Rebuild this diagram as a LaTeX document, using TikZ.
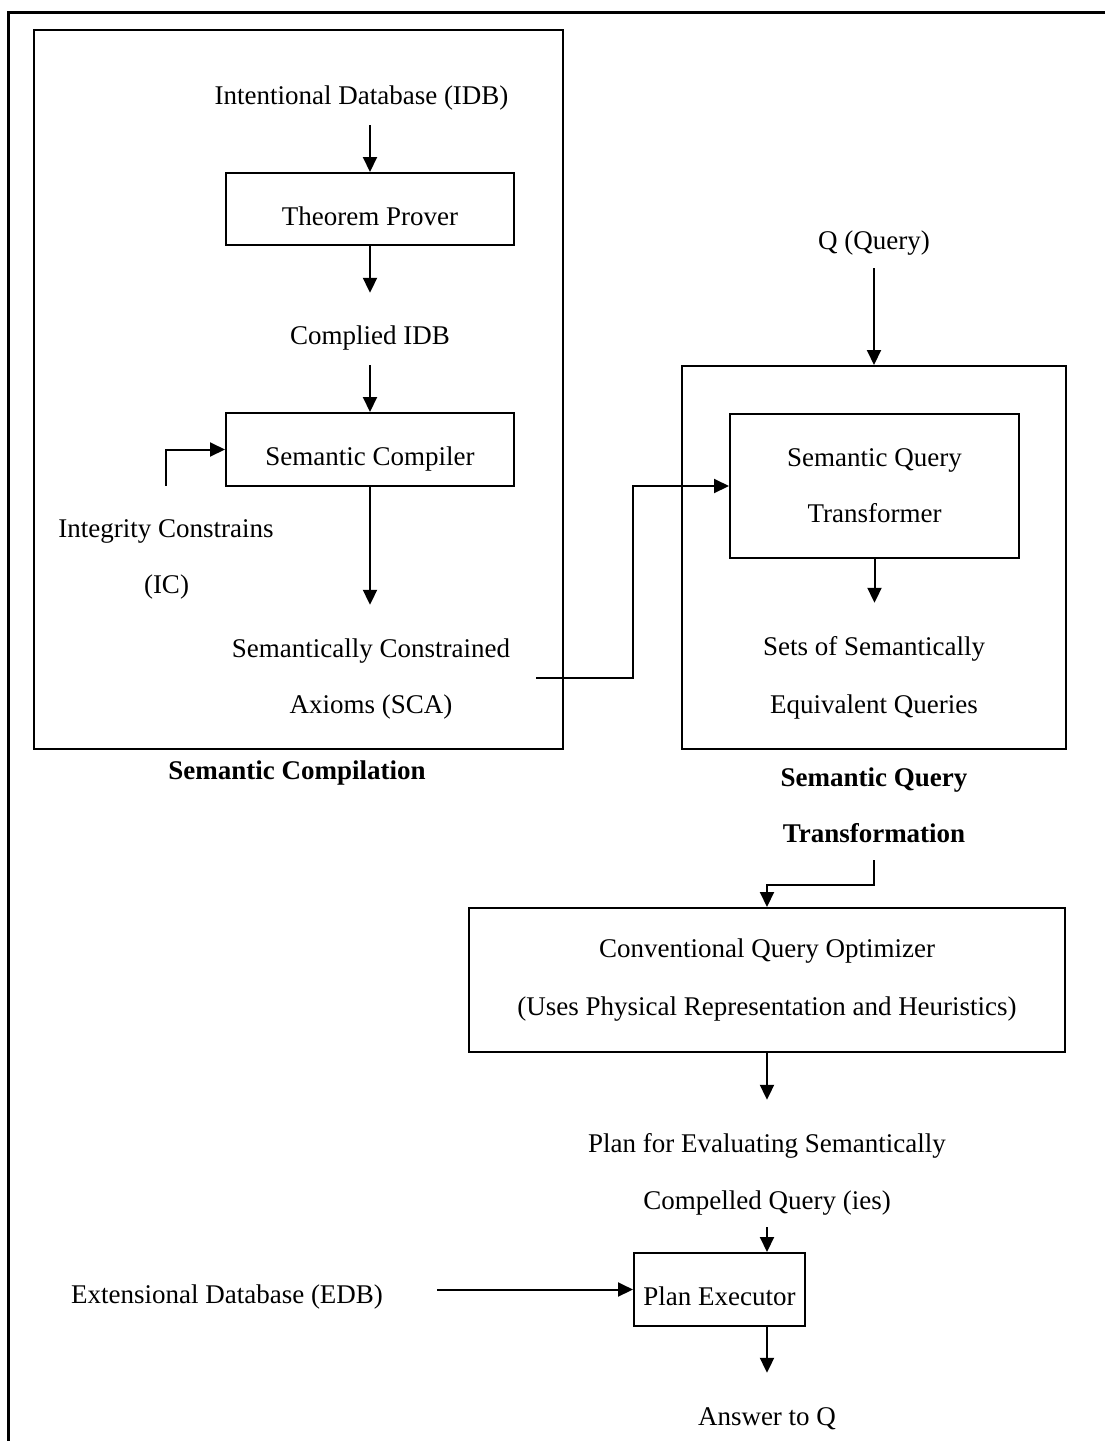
\documentclass[tikz,border=0pt]{standalone}
\usepackage{fontspec}
\setmainfont{Liberation Serif}
\usetikzlibrary{arrows.meta,calc}
\begin{document}
\begin{tikzpicture}[x=1pt,y=-1pt,
  txt/.style={font=\fontsize{27}{32}\selectfont, inner sep=0pt,
    text height=19pt, text depth=6pt, anchor=base},
  ttl/.style={txt, font=\fontsize{27}{32}\selectfont\bfseries},
  sbox/.style={draw, line width=2pt, font=\fontsize{27}{32}\selectfont,
    inner sep=0pt, text height=32pt, text depth=0pt},
  mbox/.style={draw, line width=2pt, align=center, inner sep=0pt},
  frame/.style={draw, line width=2pt, inner sep=0pt},
  arr/.style={line width=2pt, -{Triangle[length=15pt,width=14pt]}}]

\useasboundingbox (0,0) rectangle (1105,1441);

% page frame (open to the right and bottom)
\draw[line width=3pt] (8,1441) -- (8,12) -- (1105,12);

% stage frames
\node[frame, minimum width=529pt, minimum height=719pt] (lframe) at (298.5,389.5) {};
\node[frame, minimum width=384pt, minimum height=383pt] (rframe) at (874,557.5) {};

% semantic compilation
\node[txt] (idb) at (361.5,104) {Intentional Database (IDB)};
\node[sbox, minimum width=288pt, minimum height=72pt] (tp) at (370,209) {Theorem Prover};
\node[txt] (cidb) at (370,344) {Complied IDB};
\node[sbox, minimum width=288pt, minimum height=73pt] (sc) at (370,449.5) {Semantic Compiler};
\node[txt] (ic1) at (166,537) {Integrity Constrains};
\node[txt] (ic2) at (166.5,593) {(IC)};
\node[txt] (sca1) at (371,657) {Semantically Constrained};
\node[txt] (sca2) at (371,713) {Axioms (SCA)};
\node[ttl] (lttl) at (297,779) {Semantic Compilation};

% semantic query transformation
\node[txt] (q) at (874,249) {Q (Query)};
\node[mbox, font=\fontsize{27}{56}\selectfont, minimum width=289pt, minimum height=144pt]
  (sqt) at (874.5,486) {Semantic Query\\Transformer};
\node[txt] (sets1) at (874,655) {Sets of Semantically};
\node[txt] (sets2) at (874,713) {Equivalent Queries};
\node[ttl] (rttl1) at (874,786) {Semantic Query};
\node[ttl] (rttl2) at (874,842) {Transformation};

% optimisation and execution
\node[mbox, font=\fontsize{27}{58}\selectfont, minimum width=596pt, minimum height=144pt]
  (cqo) at (767,980) {Conventional Query Optimizer\\(Uses Physical Representation and Heuristics)};
\node[txt] (plan1) at (767,1152) {Plan for Evaluating Semantically};
\node[txt] (plan2) at (767,1209) {Compelled Query (ies)};
\node[sbox, minimum width=171pt, minimum height=73pt] (pe) at (719.5,1289.5) {Plan Executor};
\node[txt] (edb) at (227,1303) {Extensional Database (EDB)};
\node[txt] (ans) at (767,1425) {Answer to Q};

% connectors
\draw[arr, shorten <=15pt] (idb.south -| tp.north) -- (tp.north);
\draw[arr, shorten >=32pt] (tp.south) -- (tp.south |- cidb.north);
\draw[arr, shorten <=15pt] (cidb.south -| sc.north) -- (sc.north);
\draw[arr, shorten >=33pt] (sc.south) -- (sc.south |- sca1.north);
\draw[arr, shorten <=32pt] (ic1.north) |- (sc.west);

\coordinate (scaout) at (536,678);
\draw[arr] (scaout) -- ++(96.5,0) |- (sqt.west);

\draw[arr, shorten <=13pt] (q.south) -- (rframe.north);
\draw[arr, shorten >=33pt] (sqt.south) -- (sqt.south |- sets1.north);
\draw[arr, shorten <=12pt] (rttl2.south) -- ++(0,37) -| (cqo.north);

\draw[arr, shorten >=33pt] (cqo.south -| plan1.north) -- (plan1.north);
\draw[arr, shorten <=12pt] (plan2.south) -- (plan2.south |- pe.north);
\draw[arr, shorten <=54pt] (edb.east |- pe.west) -- (pe.west);
\draw[arr, shorten >=33pt] (pe.south -| ans.north) -- (ans.north);

\end{tikzpicture}
\end{document}
